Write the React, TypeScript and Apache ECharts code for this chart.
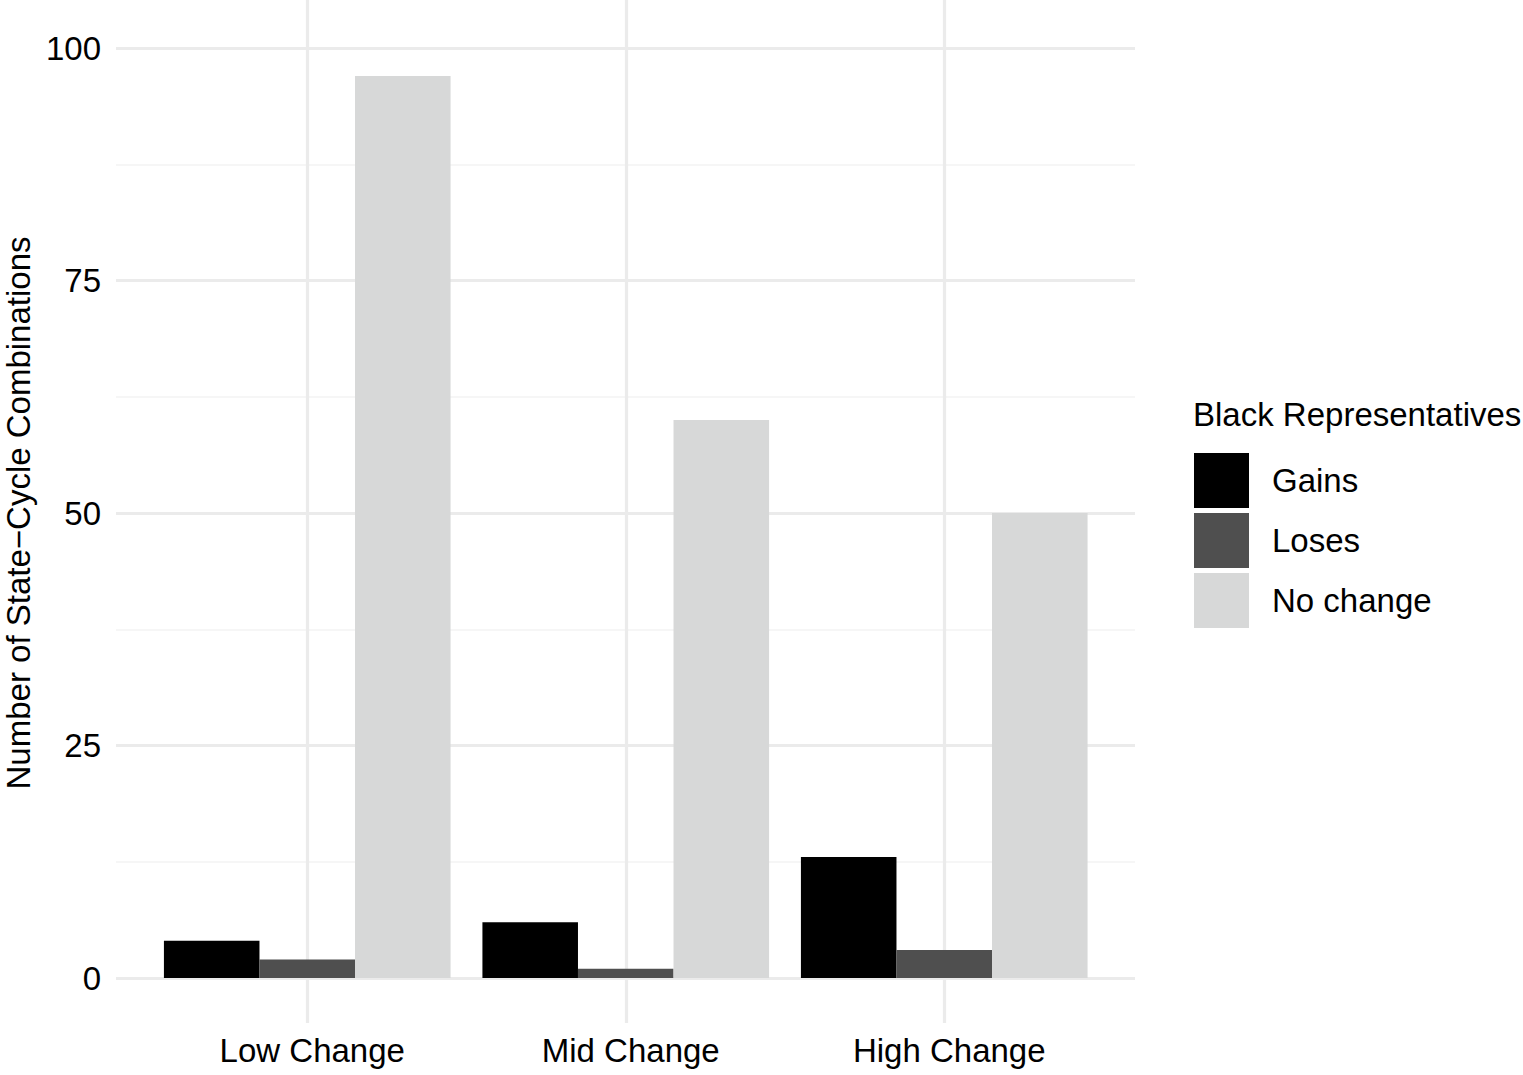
import React, { useEffect, useRef } from "react";
import * as echarts from "echarts";

const categories = ["Low Change", "Mid Change", "High Change"];
const seriesNames = ["Gains", "Loses", "No change"];
const gains = [4, 6, 13];
const loses = [2, 1, 3];
const noChange = [97, 60, 50];
const seriesColors = ["#000000", "#4f4f4f", "#d7d8d8"];
const yTicks = { min: 0, max: 100, interval: 25 };

const FONT = "'Liberation Sans', Arial, Helvetica, sans-serif";

export default function App() {
  const ref = useRef<HTMLDivElement>(null);
  useEffect(() => {
    if (!ref.current) return;
    const chart = echarts.init(ref.current, undefined, { renderer: "svg" });
    const values = [gains, loses, noChange];
    const option: any = {
      animation: false,
      backgroundColor: "#ffffff",
      textStyle: { fontFamily: FONT },
      title: {
        text: "Black Representatives",
        left: 1193,
        top: 398,
        padding: 0,
        textStyle: { fontSize: 33, fontWeight: "normal", color: "#000", fontFamily: FONT },
      },
      legend: {
        orient: "vertical",
        left: 1194,
        top: 453,
        padding: 0,
        itemWidth: 55,
        itemHeight: 55,
        itemGap: 5,
        icon: "rect",
        selectedMode: false,
        data: seriesNames,
        textStyle: { fontSize: 33, color: "#000", fontFamily: FONT, padding: [0, 0, 0, 18] },
      },
      grid: [
        { left: 116, width: 1019, top: 48, height: 930, containLabel: false, outerBoundsMode: "none" },
        { left: 307.25, width: 637, top: 0, height: 1023, containLabel: false, outerBoundsMode: "none" },
        { left: 148, width: 955.5, top: 48, height: 930, containLabel: false, outerBoundsMode: "none" },
      ],
      xAxis: [
        { gridIndex: 0, type: "value", min: 0, max: 1, show: false },
        {
          gridIndex: 1,
          type: "value",
          min: 0,
          max: 2,
          interval: 1,
          axisLine: { show: false },
          axisTick: { show: false },
          axisLabel: { show: false },
          splitLine: { show: true, lineStyle: { color: "#ebebeb", width: 3.2 } },
        },
        {
          gridIndex: 2,
          type: "category",
          data: categories,
          axisLine: { show: false },
          axisTick: { show: false },
          splitLine: { show: false },
          axisLabel: {
            fontSize: 33,
            color: "#000",
            margin: 56,
            fontFamily: FONT,
            padding: [0, 0, 0, 10],
          },
        },
      ],
      yAxis: [
        {
          gridIndex: 0,
          type: "value",
          min: yTicks.min,
          max: yTicks.max,
          interval: yTicks.interval,
          name: "Number of State\u2212Cycle Combinations",
          nameLocation: "middle",
          nameRotate: 90,
          nameGap: 81,
          nameTextStyle: { fontSize: 33, color: "#000", fontFamily: FONT },
          axisLine: { show: false },
          axisTick: { show: false },
          axisLabel: { fontSize: 33, color: "#000", margin: 15, fontFamily: FONT },
          splitLine: { show: true, lineStyle: { color: "#ebebeb", width: 3.2 } },
          minorTick: { show: false, splitNumber: 2 },
          minorSplitLine: { show: true, lineStyle: { color: "#f3f3f3", width: 1.6 } },
        },
        { gridIndex: 1, type: "value", min: 0, max: 1, show: false },
        { gridIndex: 2, type: "value", min: yTicks.min, max: yTicks.max, show: false },
      ],
      series: seriesNames.map((name, i) => ({
        name,
        type: "bar",
        xAxisIndex: 2,
        yAxisIndex: 2,
        data: values[i],
        barGap: "0%",
        barCategoryGap: "10%",
        itemStyle: { color: seriesColors[i], borderWidth: 0 },
        emphasis: { disabled: true },
      })),
    };
    chart.setOption(option);
    return () => chart.dispose();
  }, []);
  return (
    <div
      ref={ref}
      style={{ position: "absolute", left: 0, top: 0, width: 1523, height: 1075 }}
    />
  );
}
